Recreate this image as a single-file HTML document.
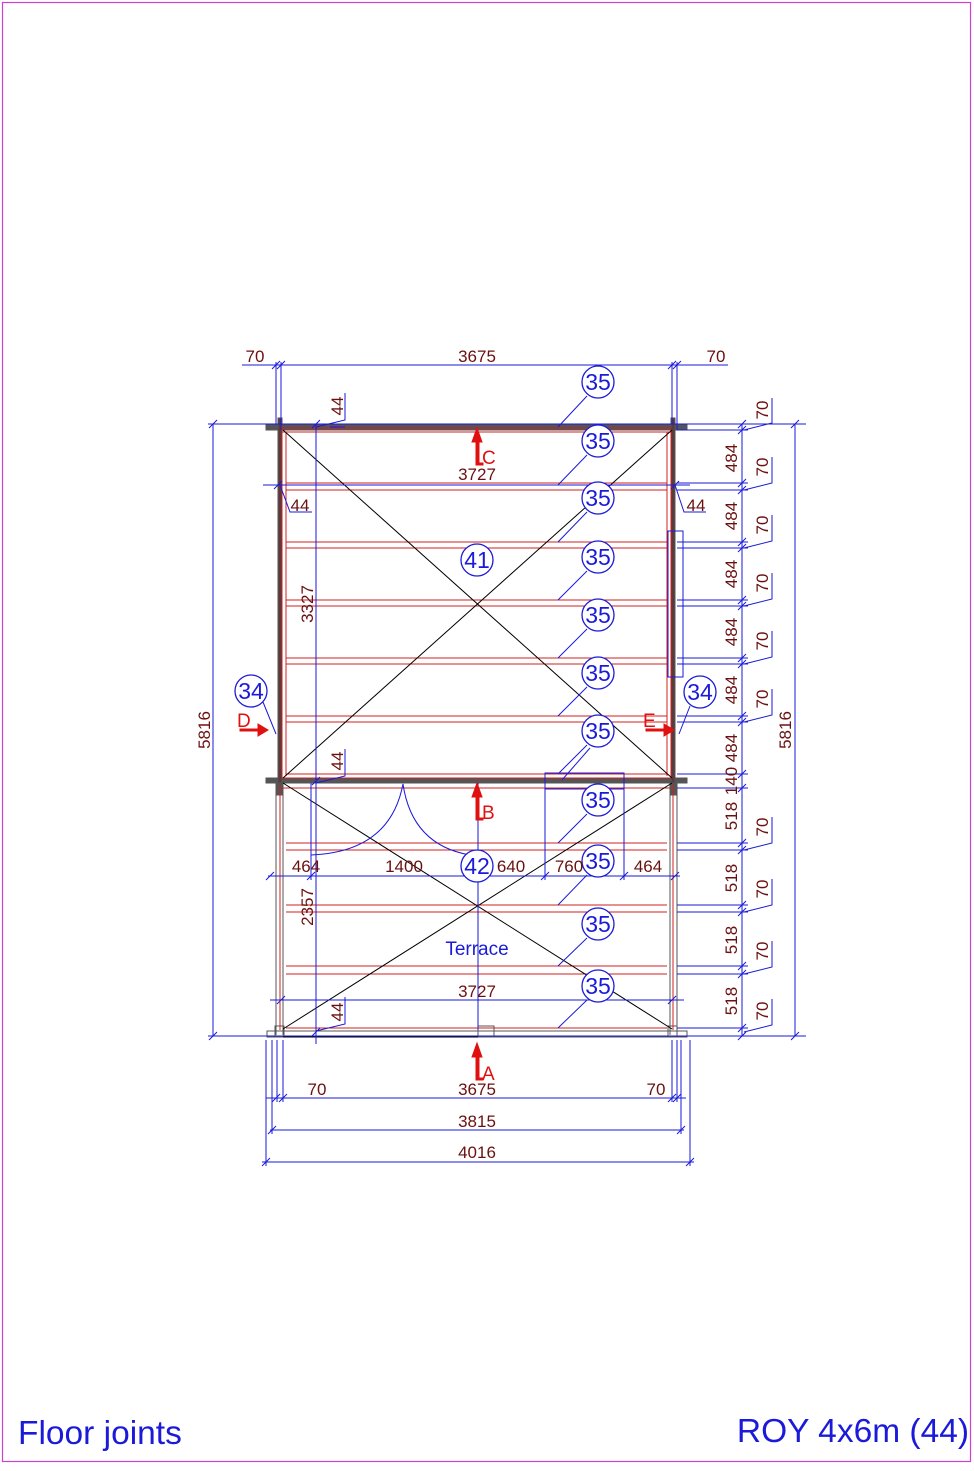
<!DOCTYPE html>
<html><head><meta charset="utf-8"><style>
html,body{margin:0;padding:0;background:#fff;}
svg{display:block;}
.d{fill:#6b1010;font-family:"Liberation Sans",sans-serif;font-size:17px;}
.b{fill:#1a1ad8;font-family:"Liberation Sans",sans-serif;}
</style></head><body>
<svg width="974" height="1471" viewBox="0 0 974 1471" xmlns="http://www.w3.org/2000/svg">
<rect x="2.5" y="2.5" width="968" height="1459" fill="none" stroke="#d040d0" stroke-width="1.2"/>

<!-- walls -->
<g stroke="#555" fill="none">
<rect x="266" y="424" width="421" height="6" fill="#555"/>
<rect x="266" y="778" width="421" height="5" fill="#555"/>
<rect x="278" y="418" width="4" height="365" fill="#5a3a3a"/>
<rect x="671" y="418" width="4" height="365" fill="#5a3a3a"/>
<rect x="277" y="783" width="5" height="12" fill="#555"/>
<rect x="671" y="783" width="5" height="12" fill="#555"/>
<line x1="276" y1="783" x2="276" y2="1035"/><line x1="283" y1="783" x2="283" y2="1035"/>
<line x1="670" y1="783" x2="670" y2="1035"/><line x1="677" y1="783" x2="677" y2="1035"/>
<rect x="267" y="1031" width="420" height="6"/>
<rect x="275" y="1026" width="9" height="10"/><rect x="668" y="1026" width="9" height="10"/>
<rect x="478" y="1026" width="16" height="10"/>
</g>
<!-- red joists -->
<g stroke="#d02020" stroke-width="1" fill="none">
<rect x="282" y="428" width="389" height="350"/>
<line x1="282" y1="432" x2="671" y2="432"/>
<line x1="286" y1="432" x2="286" y2="776"/><line x1="667" y1="432" x2="667" y2="776"/>
<line x1="286" y1="483" x2="667" y2="483"/><line x1="286" y1="490" x2="667" y2="490"/>
<line x1="286" y1="542" x2="667" y2="542"/><line x1="286" y1="548" x2="667" y2="548"/>
<line x1="286" y1="600" x2="667" y2="600"/><line x1="286" y1="606" x2="667" y2="606"/>
<line x1="286" y1="658" x2="667" y2="658"/><line x1="286" y1="664" x2="667" y2="664"/>
<line x1="286" y1="716" x2="667" y2="716"/><line x1="286" y1="722" x2="667" y2="722"/>
<line x1="286" y1="774" x2="667" y2="774"/>
<line x1="282" y1="788" x2="671" y2="788"/>
<line x1="286" y1="843" x2="667" y2="843"/><line x1="286" y1="850" x2="667" y2="850"/>
<line x1="286" y1="905" x2="667" y2="905"/><line x1="286" y1="912" x2="667" y2="912"/>
<line x1="286" y1="966" x2="667" y2="966"/><line x1="286" y1="974" x2="667" y2="974"/>
<line x1="286" y1="1028" x2="667" y2="1028"/>
<line x1="280" y1="785" x2="280" y2="1030"/><line x1="673" y1="785" x2="673" y2="1030"/>
</g>
<!-- diagonals -->
<g stroke="#000" stroke-width="1">
<line x1="283" y1="430" x2="672" y2="778"/><line x1="672" y1="430" x2="283" y2="778"/>
<line x1="283" y1="783" x2="672" y2="1029"/><line x1="672" y1="783" x2="283" y2="1029"/>
<line x1="283" y1="1037" x2="478" y2="1037"/>
</g>
<!-- blue dims -->
<g stroke="#1a1ad8" stroke-width="1" fill="none">
<line x1="242" y1="365" x2="728" y2="365"/>
<line x1="276" y1="362" x2="276" y2="424"/><line x1="281" y1="362" x2="281" y2="430"/>
<line x1="672" y1="362" x2="672" y2="424"/><line x1="677" y1="362" x2="677" y2="430"/>
<path d="M272 369l8-8M277 369l8-8M668 369l8-8M673 369l8-8"/>
<line x1="208" y1="424" x2="806" y2="424"/>
<line x1="213" y1="424" x2="213" y2="1036"/><path d="M209 428l8-8M209 1040l8-8"/>
<line x1="795" y1="424" x2="795" y2="1036"/><path d="M791 428l8-8M791 1040l8-8"/>
<line x1="208" y1="1036" x2="806" y2="1036"/>
<line x1="316" y1="424" x2="316" y2="1044"/>
<path d="M312 428l8-8M312 785l8-8M312 1036l8-8"/>
<line x1="330" y1="427" x2="345" y2="427"/><path d="M316 427L345 420V393"/>
<path d="M316 783L345 776V749"/><path d="M316 1031L345 1024V997"/>
<line x1="263" y1="485" x2="690" y2="485"/><path d="M274 489l8-8M671 489l8-8"/>
<path d="M280 485L290 512H312M675 485L684 512H706"/>
<!-- right chain -->
<line x1="742" y1="424" x2="742" y2="1036"/>
<g>
<line x1="677" y1="430" x2="748" y2="430"/>
<line x1="677" y1="483" x2="748" y2="483"/><line x1="677" y1="490" x2="748" y2="490"/>
<line x1="677" y1="542" x2="748" y2="542"/><line x1="677" y1="548" x2="748" y2="548"/>
<line x1="677" y1="600" x2="748" y2="600"/><line x1="677" y1="606" x2="748" y2="606"/>
<line x1="677" y1="658" x2="748" y2="658"/><line x1="677" y1="664" x2="748" y2="664"/>
<line x1="677" y1="716" x2="748" y2="716"/><line x1="677" y1="722" x2="748" y2="722"/>
<line x1="677" y1="774" x2="748" y2="774"/><line x1="677" y1="788" x2="748" y2="788"/>
<line x1="677" y1="843" x2="748" y2="843"/><line x1="677" y1="850" x2="748" y2="850"/>
<line x1="677" y1="905" x2="748" y2="905"/><line x1="677" y1="912" x2="748" y2="912"/>
<line x1="677" y1="966" x2="748" y2="966"/><line x1="677" y1="974" x2="748" y2="974"/>
<line x1="677" y1="1028" x2="748" y2="1028"/>
</g>
<path d="M738 428l8-8M738 434l8-8M738 487l8-8M738 494l8-8M738 546l8-8M738 552l8-8M738 604l8-8M738 610l8-8M738 662l8-8M738 668l8-8M738 720l8-8M738 726l8-8M738 778l8-8M738 792l8-8M738 847l8-8M738 854l8-8M738 909l8-8M738 916l8-8M738 970l8-8M738 978l8-8M738 1032l8-8M738 1040l8-8"/>
<path d="M744 430L772 423V398M744 490L772 483V457M744 548L772 541V515M744 606L772 599V573M744 664L772 657V631M744 722L772 715V689M744 850L772 843V817M744 912L772 905V879M744 974L772 967V941M744 1032L772 1025V999"/>
<!-- side window -->
<rect x="668" y="531" width="15" height="146"/>
<!-- door window -->
<rect x="545" y="773" width="79" height="16"/>
<line x1="545" y1="783" x2="545" y2="880"/><line x1="624" y1="783" x2="624" y2="880"/>
<line x1="311" y1="783" x2="311" y2="880"/><line x1="478" y1="783" x2="478" y2="1030"/>
<path d="M311 855Q390 852 403 784Q412 845 470 855"/>
<line x1="268" y1="876" x2="680" y2="876"/>
<path d="M266 880l8-8M307 880l8-8M474 880l8-8M541 880l8-8M620 880l8-8M671 880l8-8"/>
<line x1="270" y1="1000" x2="684" y2="1000"/><path d="M277 1004l8-8M668 1004l8-8"/>
<!-- bottom dims -->
<line x1="266" y1="1040" x2="266" y2="1166"/><line x1="690" y1="1040" x2="690" y2="1166"/>
<line x1="272" y1="1040" x2="272" y2="1134"/><line x1="681" y1="1040" x2="681" y2="1134"/>
<line x1="277" y1="1040" x2="277" y2="1102"/><line x1="283" y1="1040" x2="283" y2="1102"/>
<line x1="672" y1="1040" x2="672" y2="1102"/><line x1="677" y1="1040" x2="677" y2="1102"/>
<line x1="266" y1="1098" x2="686" y2="1098"/>
<line x1="270" y1="1130" x2="684" y2="1130"/>
<line x1="262" y1="1162" x2="694" y2="1162"/>
<path d="M272 1102l8-8M279 1102l8-8M668 1102l8-8M673 1102l8-8M268 1134l8-8M677 1134l8-8M262 1166l8-8M686 1166l8-8"/>
<!-- leaders 35 -->
<path d="M587 396L558 427M587 455L558 485M587 512L558 542M587 571L558 600M587 629L558 658M587 687L558 716M587 745L558 774M590 748L562 780M587 814L558 843M587 875L558 905M587 938L558 966M587 1000L558 1028"/>
<path d="M263 702L276 734M690 706L679 734"/>
</g>
<!-- balloons -->
<g stroke="#1a1ad8" stroke-width="1.3" fill="#fff">
<circle cx="598" cy="382" r="16"/><circle cx="598" cy="441" r="16"/><circle cx="598" cy="498" r="16"/>
<circle cx="598" cy="557" r="16"/><circle cx="598" cy="615" r="16"/><circle cx="598" cy="673" r="16"/>
<circle cx="598" cy="731" r="16"/><circle cx="598" cy="800" r="16"/><circle cx="598" cy="861" r="16"/>
<circle cx="598" cy="924" r="16"/><circle cx="598" cy="986" r="16"/>
<circle cx="477" cy="560" r="16"/><circle cx="477" cy="866" r="16"/>
<circle cx="251" cy="691" r="16"/><circle cx="700" cy="692" r="16"/>
</g>
<g class="b" font-size="23" text-anchor="middle">
<text x="598" y="390">35</text><text x="598" y="449">35</text><text x="598" y="506">35</text>
<text x="598" y="565">35</text><text x="598" y="623">35</text><text x="598" y="681">35</text>
<text x="598" y="739">35</text><text x="598" y="808">35</text><text x="598" y="869">35</text>
<text x="598" y="932">35</text><text x="598" y="994">35</text>
<text x="477" y="568">41</text><text x="477" y="874">42</text>
<text x="251" y="699">34</text><text x="700" y="700">34</text>
</g>
<text class="b" x="477" y="955" font-size="19" text-anchor="middle">Terrace</text>
<!-- red section arrows -->
<g fill="#e01010" stroke="#e01010">
<path d="M477 428l-5 14h10z"/><rect x="476" y="440" width="3" height="25"/><rect x="476" y="463" width="7" height="2"/>
<path d="M477 783l-5 14h10z"/><rect x="476" y="795" width="3" height="25"/><rect x="476" y="818" width="7" height="2"/>
<path d="M477 1043l-5 14h10z"/><rect x="476" y="1055" width="3" height="25"/><rect x="476" y="1078" width="7" height="2"/>
<path d="M240 729h18v-5l10 6-10 6v-5h-18z"/>
<path d="M646 729h18v-5l10 6-10 6v-5h-18z"/>
</g>
<g fill="#e01010" font-family="Liberation Sans,sans-serif" font-size="19">
<text x="482" y="464">C</text><text x="482" y="819">B</text><text x="482" y="1080">A</text>
<text x="237" y="727">D</text><text x="643" y="727">E</text>
</g>
<!-- dim texts -->
<g class="d" text-anchor="middle">
<text x="255" y="362">70</text><text x="477" y="362">3675</text><text x="716" y="362">70</text>
<text x="477" y="480">3727</text>
<text x="300" y="511">44</text><text x="696" y="511">44</text>
<text x="306" y="872">464</text><text x="404" y="872">1400</text><text x="511" y="872">640</text>
<text x="569" y="872">760</text><text x="648" y="872">464</text>
<text x="477" y="997">3727</text>
<text x="317" y="1095">70</text><text x="477" y="1095">3675</text><text x="656" y="1095">70</text>
<text x="477" y="1127">3815</text><text x="477" y="1158">4016</text>
</g>
<g class="d" text-anchor="middle">
<text transform="translate(210,730) rotate(-90)">5816</text>
<text transform="translate(791,730) rotate(-90)">5816</text>
<text transform="translate(313,604) rotate(-90)">3327</text>
<text transform="translate(313,907) rotate(-90)">2357</text>
<text transform="translate(343,406) rotate(-90)">44</text>
<text transform="translate(343,761) rotate(-90)">44</text>
<text transform="translate(343,1012) rotate(-90)">44</text>
<text transform="translate(737,458) rotate(-90)">484</text>
<text transform="translate(737,516) rotate(-90)">484</text>
<text transform="translate(737,574) rotate(-90)">484</text>
<text transform="translate(737,632) rotate(-90)">484</text>
<text transform="translate(737,690) rotate(-90)">484</text>
<text transform="translate(737,748) rotate(-90)">484</text>
<text transform="translate(737,781) rotate(-90)">140</text>
<text transform="translate(737,816) rotate(-90)">518</text>
<text transform="translate(737,878) rotate(-90)">518</text>
<text transform="translate(737,940) rotate(-90)">518</text>
<text transform="translate(737,1001) rotate(-90)">518</text>
<text transform="translate(768,410) rotate(-90)">70</text>
<text transform="translate(768,467) rotate(-90)">70</text>
<text transform="translate(768,525) rotate(-90)">70</text>
<text transform="translate(768,583) rotate(-90)">70</text>
<text transform="translate(768,641) rotate(-90)">70</text>
<text transform="translate(768,699) rotate(-90)">70</text>
<text transform="translate(768,827) rotate(-90)">70</text>
<text transform="translate(768,889) rotate(-90)">70</text>
<text transform="translate(768,951) rotate(-90)">70</text>
<text transform="translate(768,1011) rotate(-90)">70</text>
</g>
<text class="b" x="18" y="1444" font-size="33.5">Floor joints</text>
<text class="b" x="969" y="1442" font-size="33.5" text-anchor="end">ROY 4x6m (44)</text>
</svg>
</body></html>
